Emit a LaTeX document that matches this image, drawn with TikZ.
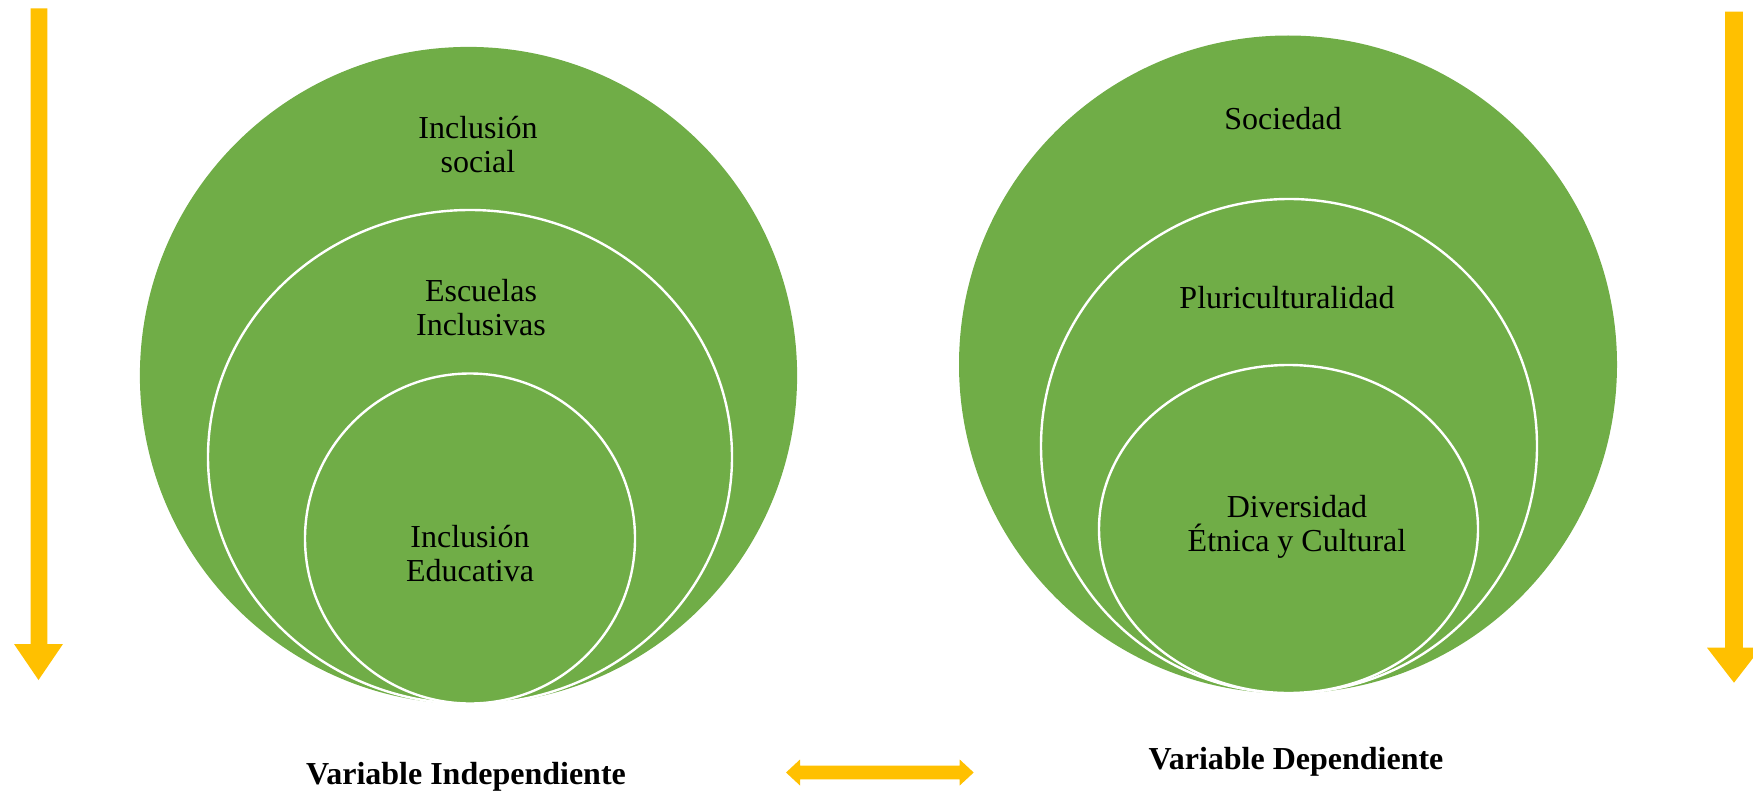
\documentclass[tikz,border=0pt]{standalone}
\usepackage{fontspec}
\setmainfont{Liberation Serif}
\definecolor{vgreen}{HTML}{70AD47}
\definecolor{vyellow}{HTML}{FFC000}
\begin{document}
\begin{tikzpicture}[x=1pt,y=-1pt,
  disc/.style={fill=vgreen},
  ring/.style={fill=vgreen,draw=white,line width=2.4pt},
  lbl/.style={align=center,font=\fontsize{32}{34}\selectfont,inner sep=0pt},
  varlabel/.style={font=\fontsize{32}{34}\selectfont\bfseries,inner sep=0pt},
  yarrow/.style={fill=vyellow}]
\useasboundingbox (0,0) rectangle (1753,797);
% left set of circles
\fill[disc] (468.5,375.5) circle (328.6);
\filldraw[ring] (470,457) ellipse [x radius=262,y radius=247];
\filldraw[ring] (470,538.5) circle (165);
% right set of circles
\fill[disc] (1288,364.5) circle (329);
\filldraw[ring] (1289,446) ellipse [x radius=248,y radius=247];
\filldraw[ring] (1288.5,529) ellipse [x radius=189.5,y radius=164];
% labels
\node[lbl] (is) at (478,145) {Inclusión\\social};
\node[lbl] (ei) at (481,308) {Escuelas\\Inclusivas};
\node[lbl] (ie) at (470,554) {Inclusión\\Educativa};
\node[lbl] (so) at (1283,119) {Sociedad};
\node[lbl] (pl) at (1287,298) {Pluriculturalidad};
\node[lbl] (de) at (1297,527) {Diversidad\\Étnica y Cultural};
\node[varlabel] (vi) at (466,777) {Variable Independiente};
\node[varlabel] (vd) at (1296,762) {Variable Dependiente};
% left down arrow
\fill[yarrow] (30.7,8.3) -- (47.3,8.3) -- (47.3,644) -- (63,644) -- (38.5,680)
  -- (14,644) -- (30.7,644) -- cycle;
% right down arrow
\fill[yarrow] (1725.2,11.7) -- (1742.8,11.7) -- (1742.8,647.7) -- (1761,647.7)
  -- (1734,682.7) -- (1707,647.7) -- (1725.2,647.7) -- cycle;
% double arrow
\fill[yarrow] (786,772.5) -- (800,759.5) -- (800,765.7) -- (959.7,765.7) -- (959.7,759.5)
  -- (973.7,772.5) -- (959.7,785.5) -- (959.7,779.3) -- (800,779.3) -- (800,785.5) -- cycle;
\end{tikzpicture}
\end{document}
